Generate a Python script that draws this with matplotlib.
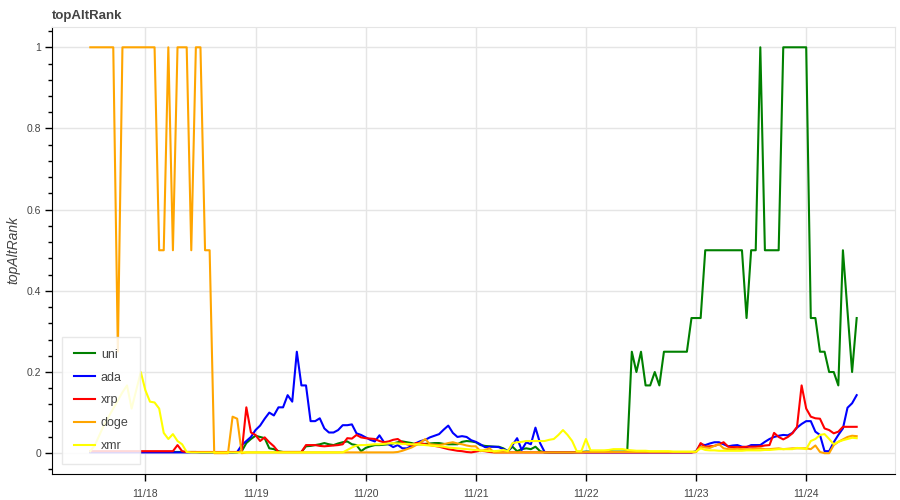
import matplotlib
matplotlib.use('Agg')
import matplotlib.pyplot as plt
import matplotlib.dates as mdates
from matplotlib.ticker import MultipleLocator
import pandas as pd

# hourly samples, 11/17 12:00 -> 11/24 11:00
start = '2023-11-17 12:00'
n_hours = 168

uni = [
    0.003, 0.003, 0.003, 0.003, 0.003, 0.003, 0.003, 0.003, 0.003, 0.003, 0.003, 0.003,
    0.003, 0.003, 0.003, 0.003, 0.003, 0.003, 0.003, 0.003, 0.003, 0.003, 0.003, 0.003,
    0.002, 0.002, 0.002, 0.002, 0.002, 0.002, 0.002, 0.002, 0.002, 0.005, 0.025, 0.035,
    0.043, 0.04, 0.037, 0.012, 0.01, 0.005, 0.003, 0.003, 0.003, 0.003, 0.003, 0.017,
    0.018, 0.02, 0.022, 0.025, 0.022, 0.02, 0.024, 0.027, 0.029, 0.022, 0.02, 0.005,
    0.013, 0.017, 0.02, 0.02, 0.021, 0.022, 0.024, 0.027, 0.029, 0.027, 0.025, 0.022,
    0.022, 0.023, 0.024, 0.025, 0.025, 0.023, 0.022, 0.022, 0.022, 0.028, 0.03, 0.029,
    0.027, 0.02, 0.018, 0.017, 0.016, 0.016, 0.012, 0.005, 0.016, 0.005, 0.01, 0.012,
    0.01, 0.016, 0.005, 0.002, 0.002, 0.002, 0.002, 0.002, 0.002, 0.002, 0.003, 0.003,
    0.004, 0.004, 0.005, 0.005, 0.005, 0.005, 0.004, 0.004, 0.004, 0.005, 0.25, 0.2,
    0.25, 0.167, 0.167, 0.2, 0.167, 0.25, 0.25, 0.25, 0.25, 0.25, 0.25, 0.333,
    0.333, 0.333, 0.5, 0.5, 0.5, 0.5, 0.5, 0.5, 0.5, 0.5, 0.5, 0.333,
    0.5, 0.5, 1.0, 0.5, 0.5, 0.5, 0.5, 1.0, 1.0, 1.0, 1.0, 1.0,
    1.0, 0.333, 0.333, 0.25, 0.25, 0.2, 0.2, 0.167, 0.5, 0.35, 0.2, 0.333,
]

ada = [
    0.002, 0.002, 0.002, 0.002, 0.002, 0.002, 0.002, 0.002, 0.002, 0.002, 0.002, 0.002,
    0.002, 0.002, 0.002, 0.002, 0.002, 0.002, 0.002, 0.002, 0.002, 0.002, 0.002, 0.002,
    0.002, 0.002, 0.002, 0.002, 0.002, 0.002, 0.002, 0.002, 0.003, 0.02, 0.03, 0.04,
    0.057, 0.068, 0.085, 0.1, 0.093, 0.113, 0.113, 0.143, 0.127, 0.25, 0.167, 0.167,
    0.079, 0.079, 0.086, 0.061, 0.051, 0.051, 0.057, 0.069, 0.069, 0.071, 0.049, 0.045,
    0.039, 0.033, 0.029, 0.044, 0.027, 0.022, 0.015, 0.02, 0.012, 0.012, 0.018, 0.025,
    0.03, 0.033, 0.039, 0.043, 0.047, 0.058, 0.068, 0.05, 0.04, 0.042, 0.04, 0.032,
    0.028, 0.022, 0.015, 0.016, 0.016, 0.015, 0.01, 0.005, 0.02, 0.037, 0.008, 0.027,
    0.022, 0.063, 0.025, 0.003, 0.002, 0.002, 0.002, 0.002, 0.002, 0.002, 0.002, 0.002,
    0.002, 0.002, 0.002, 0.002, 0.002, 0.002, 0.002, 0.002, 0.002, 0.002, 0.002, 0.002,
    0.002, 0.002, 0.002, 0.002, 0.002, 0.002, 0.002, 0.002, 0.002, 0.002, 0.002, 0.002,
    0.005, 0.022, 0.02, 0.024, 0.027, 0.027, 0.022, 0.017, 0.019, 0.02, 0.016, 0.015,
    0.02, 0.02, 0.02, 0.028, 0.035, 0.04, 0.043, 0.045, 0.044, 0.05, 0.063, 0.072,
    0.079, 0.079, 0.053, 0.045, 0.005, 0.005, 0.027, 0.045, 0.061, 0.112, 0.123, 0.143,
]

xrp = [
    0.005, 0.005, 0.005, 0.005, 0.005, 0.005, 0.005, 0.005, 0.005, 0.005, 0.005, 0.005,
    0.005, 0.005, 0.005, 0.005, 0.005, 0.005, 0.005, 0.02, 0.005, 0.003, 0.003, 0.003,
    0.003, 0.003, 0.003, 0.003, 0.003, 0.003, 0.003, 0.003, 0.003, 0.003, 0.113, 0.051,
    0.045, 0.03, 0.039, 0.027, 0.017, 0.003, 0.003, 0.003, 0.003, 0.003, 0.003, 0.02,
    0.02, 0.02, 0.018, 0.017, 0.018, 0.019, 0.02, 0.022, 0.037, 0.036, 0.045, 0.039,
    0.037, 0.036, 0.035, 0.03, 0.027, 0.029, 0.033, 0.035, 0.027, 0.022, 0.02, 0.025,
    0.025, 0.022, 0.02, 0.018, 0.016, 0.013, 0.01, 0.008, 0.006, 0.005, 0.003, 0.002,
    0.004, 0.006, 0.005, 0.003, 0.002, 0.002, 0.002, 0.002, 0.002, 0.002, 0.002, 0.002,
    0.002, 0.002, 0.002, 0.002, 0.002, 0.002, 0.002, 0.002, 0.002, 0.002, 0.002, 0.002,
    0.002, 0.002, 0.002, 0.002, 0.002, 0.002, 0.002, 0.002, 0.002, 0.002, 0.002, 0.002,
    0.002, 0.002, 0.002, 0.002, 0.002, 0.002, 0.002, 0.002, 0.002, 0.002, 0.002, 0.002,
    0.003, 0.025, 0.016, 0.017, 0.018, 0.022, 0.027, 0.016, 0.015, 0.015, 0.015, 0.016,
    0.016, 0.016, 0.017, 0.019, 0.02, 0.05, 0.04, 0.034, 0.04, 0.049, 0.065, 0.167,
    0.11, 0.09, 0.086, 0.085, 0.061, 0.057, 0.049, 0.053, 0.065, 0.065, 0.065, 0.065,
]

doge = [
    1.0, 1.0, 1.0, 1.0, 1.0, 1.0, 0.25, 1.0, 1.0, 1.0, 1.0, 1.0,
    1.0, 1.0, 1.0, 0.5, 0.5, 1.0, 0.5, 1.0, 1.0, 1.0, 0.5, 1.0,
    1.0, 0.5, 0.5, 0.0, 0.0, 0.0, 0.0, 0.09, 0.085, 0.0, 0.002, 0.002,
    0.002, 0.002, 0.002, 0.002, 0.002, 0.002, 0.002, 0.002, 0.002, 0.002, 0.002, 0.002,
    0.002, 0.002, 0.002, 0.002, 0.002, 0.002, 0.002, 0.002, 0.002, 0.002, 0.002, 0.002,
    0.002, 0.002, 0.002, 0.002, 0.002, 0.002, 0.002, 0.003, 0.006, 0.01, 0.014, 0.02,
    0.027, 0.035, 0.022, 0.021, 0.02, 0.022, 0.025, 0.027, 0.024, 0.022, 0.019, 0.017,
    0.017, 0.005, 0.008, 0.012, 0.002, 0.002, 0.002, 0.002, 0.002, 0.002, 0.002, 0.002,
    0.002, 0.002, 0.002, 0.002, 0.002, 0.002, 0.002, 0.002, 0.002, 0.002, 0.002, 0.002,
    0.003, 0.003, 0.003, 0.003, 0.003, 0.003, 0.003, 0.003, 0.003, 0.003, 0.003, 0.003,
    0.003, 0.003, 0.003, 0.003, 0.003, 0.003, 0.003, 0.003, 0.003, 0.003, 0.003, 0.003,
    0.003, 0.016, 0.014, 0.013, 0.018, 0.022, 0.012, 0.01, 0.01, 0.011, 0.01, 0.01,
    0.01, 0.011, 0.012, 0.01, 0.01, 0.011, 0.012, 0.01, 0.011, 0.012, 0.012, 0.012,
    0.012, 0.01, 0.019, 0.003, 0.0, 0.0, 0.02, 0.028, 0.034, 0.04, 0.043, 0.042,
]

xmr = [
    0.005, 0.02, 0.045, 0.07, 0.09, 0.11, 0.13, 0.15, 0.167, 0.11, 0.155, 0.2,
    0.155, 0.127, 0.125, 0.11, 0.05, 0.035, 0.047, 0.03, 0.022, 0.003, 0.002, 0.002,
    0.002, 0.002, 0.002, 0.002, 0.002, 0.002, 0.002, 0.002, 0.002, 0.002, 0.002, 0.002,
    0.002, 0.002, 0.002, 0.002, 0.002, 0.002, 0.002, 0.002, 0.002, 0.002, 0.002, 0.002,
    0.002, 0.002, 0.002, 0.002, 0.002, 0.002, 0.002, 0.002, 0.008, 0.014, 0.019, 0.02,
    0.02, 0.021, 0.022, 0.022, 0.023, 0.024, 0.025, 0.024, 0.023, 0.023, 0.022, 0.022,
    0.021, 0.02, 0.019, 0.018, 0.017, 0.016, 0.014, 0.013, 0.012, 0.011, 0.01, 0.009,
    0.008, 0.007, 0.006, 0.005, 0.005, 0.006, 0.008, 0.005, 0.025, 0.027, 0.028, 0.03,
    0.03, 0.03, 0.03, 0.03, 0.033, 0.035, 0.045, 0.057, 0.045, 0.03, 0.005, 0.005,
    0.035, 0.007, 0.007, 0.007, 0.007, 0.008, 0.01, 0.01, 0.01, 0.008, 0.007, 0.006,
    0.006, 0.006, 0.005, 0.005, 0.005, 0.005, 0.005, 0.004, 0.004, 0.004, 0.004, 0.004,
    0.004, 0.012, 0.008, 0.007, 0.007, 0.006, 0.006, 0.006, 0.006, 0.006, 0.006, 0.007,
    0.007, 0.007, 0.007, 0.008, 0.008, 0.009, 0.01, 0.01, 0.01, 0.01, 0.013, 0.012,
    0.01, 0.03, 0.035, 0.045, 0.047, 0.035, 0.022, 0.028, 0.032, 0.035, 0.038, 0.037,
]

series = [('uni', uni, 'green'), ('ada', ada, 'blue'), ('xrp', xrp, 'red'),
          ('doge', doge, 'orange'), ('xmr', xmr, 'yellow')]

times = pd.date_range(start, periods=n_hours, freq='h')

plt.rcParams['font.family'] = ['Liberation Sans', 'DejaVu Sans']

fig = plt.figure(figsize=(9, 5), dpi=100)
ax = fig.add_axes([52 / 900, 1 - 473.5 / 500, 843 / 900, 446.5 / 500])

for name, vals, col in series:
    ax.plot(times, vals, color=col, lw=1.5, label=name)

# bokeh style range padding
span = times[-1] - times[0]
ax.set_xlim(times[0] - span * 0.05, times[-1] + span * 0.05)
ax.set_ylim(-0.05, 1.05)

ax.xaxis.set_major_locator(mdates.DayLocator())
ax.xaxis.set_major_formatter(mdates.DateFormatter('%m/%d'))
ax.yaxis.set_major_locator(MultipleLocator(0.2))
ax.yaxis.set_minor_locator(MultipleLocator(0.04))
ax.yaxis.set_major_formatter(plt.FuncFormatter(lambda v, p: '%g' % round(v, 2)))

ax.grid(True, color='#e5e5e5', lw=1)
ax.set_axisbelow(True)
for s in ['top', 'right']:
    ax.spines[s].set_color('#e5e5e5')
for s in ['left', 'bottom']:
    ax.spines[s].set_color('black')
ax.tick_params(axis='both', which='major', length=5, width=1, labelsize=7.5,
               labelcolor='#444444', pad=3)
ax.tick_params(axis='y', which='minor', length=3, width=1)
ax.tick_params(axis='x', pad=6)

ax.set_title('topAltRank', loc='left', fontsize=9.5, fontweight='bold',
             color='#444444', pad=6)
ax.set_ylabel('topAltRank', style='italic', fontsize=10, color='#444444', labelpad=4)

leg = ax.legend(loc='lower left', bbox_to_anchor=(0.012, 0.021), borderaxespad=0,
                fancybox=False, edgecolor='#e5e5e5', framealpha=0.85,
                fontsize=9, handlelength=1.7, labelspacing=0.87, borderpad=0.95,
                handletextpad=0.45)
for t in leg.get_texts():
    t.set_color('#444444')
leg.get_frame().set_linewidth(1)

fig.savefig('out.png', dpi=100)
